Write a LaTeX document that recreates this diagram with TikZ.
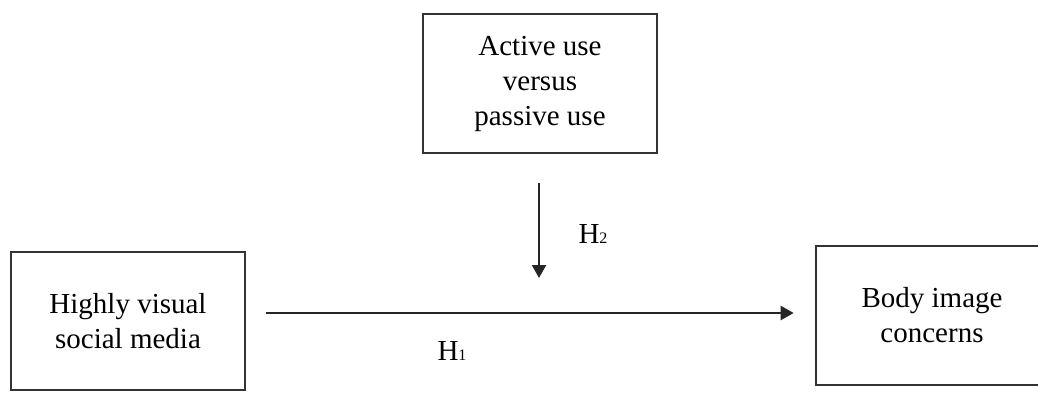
\documentclass[tikz,border=0pt]{standalone}
\usepackage{fontspec}
\setmainfont{Liberation Serif}
\usetikzlibrary{arrows.meta}
\tikzset{
  box/.style={draw=black!80, line width=2.6pt, inner sep=0pt, align=center,
    font=\fontsize{29}{35}\selectfont},
  conn/.style={draw=black!85, line width=2.3pt, -{Triangle[length=13pt,width=14pt]}},
  hlabel/.style={font=\fontsize{29}{35}\selectfont, inner sep=0pt}
}
\newcommand{\smallidx}[1]{{\fontsize{16}{16}\selectfont #1}}
\begin{document}
\begin{tikzpicture}[x=1pt,y=1pt]
\useasboundingbox (0,0) rectangle (1038,392);
\clip (0,0) rectangle (1038,392);
\node[box, minimum width=234pt, minimum height=139pt] (mod) at (540,308.5)
  {Active use\\versus\\passive use};
\node[box, minimum width=234pt, minimum height=138pt] (iv) at (128,71)
  {Highly visual\\social media};
\node[box, minimum width=232pt, minimum height=139pt] (dv) at (932,76.5)
  {Body image\\concerns};
\coordinate (hy) at (0,79);
\coordinate (vend) at (539,114);
\draw[conn] ([xshift=20pt]iv.east |- hy) -- ([xshift=-21pt]dv.west |- hy);
\draw[conn] ([yshift=-29pt]mod.south -| vend) -- (vend);
\node[hlabel] (h1) at (452,41) {H\smallidx{1}};
\node[hlabel] (h2) at (593,158) {H\smallidx{2}};
\end{tikzpicture}
\end{document}
